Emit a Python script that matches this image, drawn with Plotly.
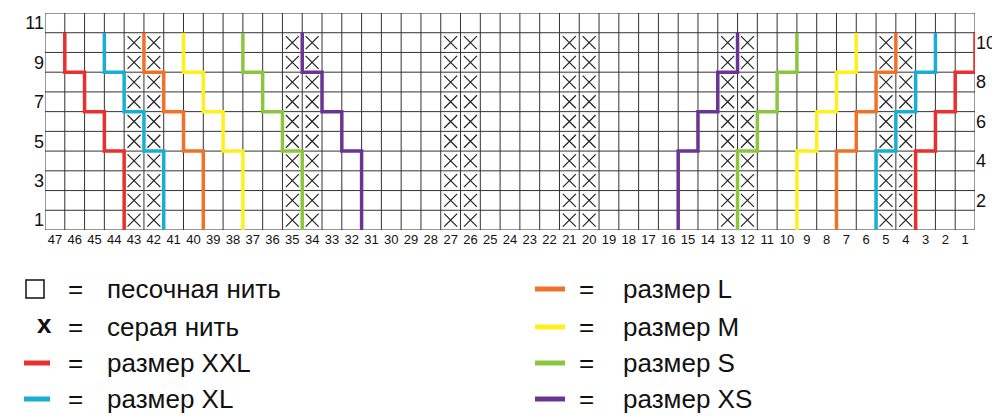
import plotly.graph_objects as go

# chart data
columns = list(range(47, 0, -1))
rows = list(range(1, 12))
cross_cols = [43, 42, 35, 34, 27, 26, 21, 20, 13, 12, 5, 4]
cross_rows = list(range(1, 11))
sizes = ['XXL', 'XL', 'L', 'M', 'S', 'XS']
colors = ['#e8302e', '#1aaed0', '#f07228', '#fdf01c', '#8cc63e', '#6a3592']
left_start = [46.5, 44.5, 42.5, 40.5, 37.5, 34.5]
right_start = [0.5, 2.5, 4.5, 6.5, 9.5, 12.5]
step_rows = [10.5, 8.5, 6.5, 4.5, 0.5]

fig = go.Figure()

# grid
shapes = []
for c in range(48):
    shapes.append(dict(type='line', x0=c + 0.5, x1=c + 0.5, y0=0.5, y1=11.5,
                       line=dict(color='#333', width=1), layer='below'))
for r in range(12):
    shapes.append(dict(type='line', x0=0.5, x1=47.5, y0=r + 0.5, y1=r + 0.5,
                       line=dict(color='#333', width=1), layer='below'))

# crosses
cx = [c for c in cross_cols for r in cross_rows]
cy = [r for c in cross_cols for r in cross_rows]
fig.add_trace(go.Scatter(x=cx, y=cy, mode='markers', hoverinfo='skip',
                         marker=dict(symbol='x-thin', size=13, line=dict(width=1.2, color='#222'))))

# size lines
def stair(x0, d):
    xs, ys = [], []
    x = x0
    for i in range(4):
        xs += [x, x]
        ys += [step_rows[i], step_rows[i + 1]]
        x += d
    return xs, ys

for s, col, l, r in zip(sizes, colors, left_start, right_start):
    for start, d in ((l, -1), (r, 1)):
        xs, ys = stair(start, d)
        fig.add_trace(go.Scatter(x=xs, y=ys, mode='lines', hoverinfo='skip',
                                 line=dict(color=col, width=3.5)))

# right axis labels
fig.add_trace(go.Scatter(x=[None], y=[None], yaxis='y2', showlegend=False))

W, T, B, L = 930, 5, 222, 37
def px(x):
    return (x - L) / W
def py(y):
    return (B - y) / (B - T)

font = dict(family='Liberation Sans, Arial', size=26, color='#111')
ann = []
legend_left = [('песочная нить', None), ('x', 'x'), ('размер XXL', colors[0]), ('размер XL', colors[1])]
legend_right = [('размер L', colors[2]), ('размер M', colors[3]), ('размер S', colors[4]), ('размер XS', colors[5])]
ys_px = [281, 319, 355, 391]
for (txt, c), yy in zip(legend_left, ys_px):
    if c is None:
        shapes.append(dict(type='rect', xref='paper', yref='paper', x0=px(18), x1=px(36),
                           y0=py(yy + 9), y1=py(yy - 9), line=dict(color='#111', width=1.5)))
    elif c == 'x':
        ann.append(dict(x=px(27), y=py(yy - 3), xref='paper', yref='paper', text='<b>x</b>',
                        showarrow=False, font=font, yanchor='middle'))
    else:
        shapes.append(dict(type='line', xref='paper', yref='paper', x0=px(16), x1=px(42),
                           y0=py(yy), y1=py(yy), line=dict(color=c, width=5)))
    ann.append(dict(x=px(58), y=py(yy), xref='paper', yref='paper', text='=',
                    showarrow=False, font=font, yanchor='middle'))
    ann.append(dict(x=px(97), y=py(yy), xref='paper', yref='paper', text=txt if c != 'x' else 'серая нить',
                    xanchor='left', yanchor='middle', showarrow=False, font=font))
for (txt, c), yy in zip(legend_right, ys_px):
    shapes.append(dict(type='line', xref='paper', yref='paper', x0=px(527), x1=px(557),
                       y0=py(yy), y1=py(yy), line=dict(color=c, width=5)))
    ann.append(dict(x=px(578), y=py(yy), xref='paper', yref='paper', text='=',
                    showarrow=False, font=font, yanchor='middle'))
    ann.append(dict(x=px(613), y=py(yy), xref='paper', yref='paper', text=txt,
                    xanchor='left', yanchor='middle', showarrow=False, font=font))

fig.update_layout(
    width=1000, height=420, showlegend=False,
    margin=dict(l=L, r=1000 - L - W, t=T, b=420 - B, autoexpand=False),
    plot_bgcolor='white', paper_bgcolor='white',
    font=dict(family='Liberation Sans, Arial', color='#111'),
    xaxis=dict(range=[47.5, 0.5], tickvals=columns, ticktext=[str(c) for c in columns],
               showgrid=False, zeroline=False, ticks='', tickfont=dict(size=13), automargin=False),
    yaxis=dict(range=[0.5, 11.5], tickvals=[1, 3, 5, 7, 9, 11], showgrid=False,
               zeroline=False, ticks='', tickfont=dict(size=18), automargin=False),
    yaxis2=dict(range=[0.5, 11.5], overlaying='y', side='right', tickvals=[2, 4, 6, 8, 10],
                showgrid=False, zeroline=False, ticks='', tickfont=dict(size=18), automargin=False),
    shapes=shapes, annotations=ann,
)

fig.write_html("out.html")
